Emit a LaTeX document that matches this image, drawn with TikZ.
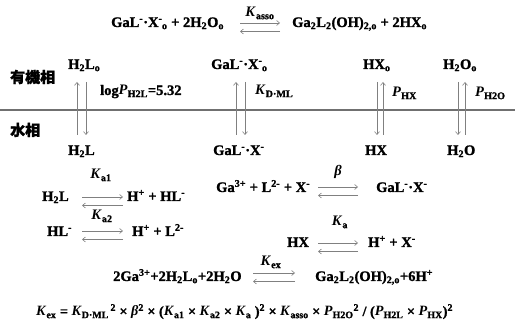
\documentclass[tikz,border=0pt]{standalone}
\usepackage{fontspec}
\setmainfont{Liberation Serif}[BoldFeatures={FakeBold=1.3}]
\newfontfamily\cjk{Noto Sans CJK JP}[BoldFeatures={FakeBold=1.5}]
\usetikzlibrary{arrows.meta}
\definecolor{arrcol}{HTML}{808080}
\definecolor{sepcol}{HTML}{707070}
\newcommand\sbs[1]{\textsubscript{#1}}
\newcommand\sps[1]{\textsuperscript{#1}}
\newcommand\sbsps[2]{\textsuperscript{#1}\kern-0.5pt\textsubscript{#2}}
\newcommand\Ki{\textit{K}}
\newcommand\Pit{\textit{P}}
\newcommand\Bet{\textit{β}}
\newcommand\eqarr[4]{%
  \coordinate (#1l) at (#2,#4);
  \coordinate (#1r) at (#3,#4);
  \draw[half] (#1l) -- (#1r);
  \draw[half] ([yshift=-8.5pt]#1r) -- ([yshift=-8.5pt]#1l);}
\newcommand\varr[4]{%
  \coordinate (#1t) at (#2,82);
  \coordinate (#1b) at (#2,135);
  \coordinate (#1T) at (#3,82);
  \coordinate (#1B) at (#3,135);
  \ifnum#4=1
    \draw[half] (#1b) -- (#1t); \draw[half] (#1T) -- (#1B);
  \else
    \draw[half] (#1t) -- (#1b); \draw[half] (#1B) -- (#1T);
  \fi}
\begin{document}
\begin{tikzpicture}[x=1pt,y=-1pt,
  every node/.style={font=\fontsize{14.5}{16}\selectfont\bfseries, inner sep=0pt},
  txt/.style={anchor=base west},
  lbl/.style={anchor=base},
  cjklbl/.style={anchor=west, font=\cjk\fontsize{15}{16}\selectfont\bfseries},
  half/.style={draw=arrcol, line width=0.6pt, -{Straight Barb[length=3pt,width=5pt]}},
  sepline/.style={draw=sepcol, line width=1.2pt}]
\useasboundingbox (0,0) rectangle (515,326);
% top equilibrium
\node[txt] (t1) at (111,27) {GaL\sps{-}·X\sbsps{-}{o} + 2H\sbs{2}O\sbs{o}};
\eqarr{et}{240}{280}{23}
\node[lbl] (kasso) at (260,17) {\Ki\sbs{asso}};
\node[txt] (t2) at (292,27) {Ga\sbs{2}L\sbs{2}(OH)\sbs{2,o} + 2HX\sbs{o}};
% organic phase
\node[cjklbl] (org) at (10,77) {有機相};
\node[txt] (h2lo) at (68,69) {H\sbs{2}L\sbs{o}};
\node[txt] (galxo) at (211,69) {GaL\sps{-}·X\sbsps{-}{o}};
\node[txt] (hxo) at (363,69) {HX\sbs{o}};
\node[txt] (h2oo) at (443,69) {H\sbs{2}O\sbs{o}};
\node[txt] (logp) at (100,95) {log\Pit\sbs{H2L}=5.32};
\node[txt] (kdml) at (255,95) {\Ki\sbs{D·ML}};
\node[txt] (phx) at (392,97) {\Pit\sbs{HX}};
\node[txt] (ph2o) at (475,97) {\Pit\sbs{H2O}};
% interface
\coordinate (sepL) at (0,110);
\coordinate (sepR) at (515,110);
\draw[sepline] (sepL) -- (sepR);
% aqueous phase
\node[cjklbl] (aq) at (10,130) {水相};
\node[txt] (h2l) at (68,155) {H\sbs{2}L};
\node[txt] (galx) at (213,155) {GaL\sps{-}·X\sps{-}};
\node[txt] (hx) at (365,155) {HX};
\node[txt] (h2o) at (447,155) {H\sbs{2}O};
% vertical distribution arrows
\varr{va}{77}{86}{1}
\varr{vb}{236}{245}{1}
\varr{vc}{383}{377}{1}
\varr{vd}{465}{458}{1}
% Ka1
\node[lbl] (ka1) at (101,179) {\Ki\sbs{a1}};
\node[txt] (r1l) at (42,201) {H\sbs{2}L};
\eqarr{e1}{82}{123}{197}
\node[txt] (r1r) at (127,201) {H\sps{+} + HL\sps{-}};
% beta
\node[lbl] (beta) at (338,176) {\Bet};
\node[txt] (r2l) at (216,192) {Ga\sps{3+} + L\sps{2-} + X\sps{-}};
\eqarr{e2}{318}{358}{187}
\node[txt] (r2r) at (376,192) {GaL\sps{-}·X\sps{-}};
% Ka2
\node[lbl] (ka2) at (102,220) {\Ki\sbs{a2}};
\node[txt] (r3l) at (47,236) {HL\sps{-}};
\eqarr{e3}{82}{123}{231}
\node[txt] (r3r) at (132,236) {H\sps{+} + L\sps{2-}};
% Ka
\node[lbl] (ka) at (340,226) {\Ki\sbs{a}};
\node[txt] (r4l) at (287,247) {HX};
\eqarr{e4}{318}{358}{243}
\node[txt] (r4r) at (368,247) {H\sps{+} + X\sps{-}};
% Kex
\node[lbl] (kex) at (271,266) {\Ki\sbs{ex}};
\node[txt] (r5l) at (113,281) {2Ga\sps{3+}+2H\sbs{2}L\sbs{o}+2H\sbs{2}O};
\eqarr{e5}{253}{295}{273}
\node[txt] (r5r) at (315,281) {Ga\sbs{2}L\sbs{2}(OH)\sbs{2,o}+6H\sps{+}};
% formula
\node[txt, font=\fontsize{14.2}{16}\selectfont\bfseries] (form) at (36,316) {\Ki\sbs{ex} = \Ki\sbs{D·ML}\sps{\,2} × \Bet\sps{2} × (\Ki\sbs{a1} × \Ki\sbs{a2} × \Ki\sbs{a} )\sps{2} × \Ki\sbs{asso} × \Pit\sbs{H2O}\sps{2} / (\Pit\sbs{H2L} × \Pit\sbs{HX})\sps{2}};
\end{tikzpicture}
\end{document}
